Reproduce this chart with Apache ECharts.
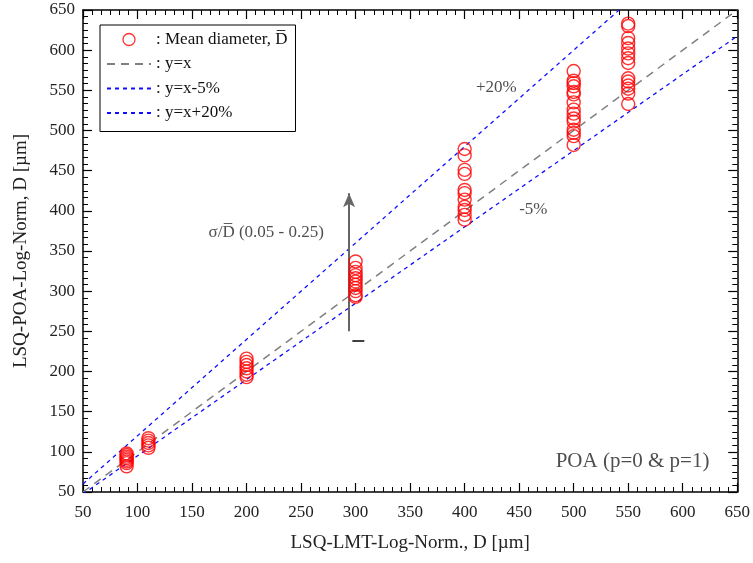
<!DOCTYPE html>
<html><head><meta charset="utf-8">
<script src="https://cdn.jsdelivr.net/npm/echarts@6/dist/echarts.min.js"></script>
<style>html,body{margin:0;padding:0;background:#fff}#c{width:753px;height:563px}</style>
</head><body><div id="c"></div>
<script>
// ---- data ----
const groupX = [90, 110, 200, 300, 400, 500, 550];
const y90  = [98, 96, 94, 92, 90, 88, 86, 82];
const y110 = [117, 114, 111, 108, 105];
const y200 = [216, 212, 208, 204, 200, 196, 193];
const y300 = [337, 329, 324, 320, 316, 312, 308, 304, 300, 295, 293];
const y400 = [477, 469, 451, 446, 426, 422, 414, 405, 401, 395, 389];
const y500 = [574, 562, 559, 555, 548, 545, 535, 526, 521, 515, 511, 501, 497, 493, 482];
const y550 = [633, 630, 615, 609, 602, 596, 590, 584, 565, 561, 556, 552, 546, 533];
const lineYX      = [[50,50],[650,650]];
const lineMinus5  = [[50,47.5],[650,617.5]];
const linePlus20  = [[50,60],[541.67,650]];
const arrowFrom = [294, 250], arrowTo = [294, 422];
const dashFrom = [297, 238], dashTo = [308, 238];

const yGroups = [y90, y110, y200, y300, y400, y500, y550];
const points = [];
groupX.forEach((x,i)=>yGroups[i].forEach(y=>points.push([x,y])));

const FONT = '"Liberation Serif", "DejaVu Serif", serif';
const txt = {fontFamily: FONT, color: '#222'};

const annotations = [
  {value:[429, 553], text:'+20%', size:17},
  {value:[463, 401], text:'-5%', size:17},
  {value:[218, 373], text:'σ/D\u0305 (0.05 - 0.25)', size:17},
  {value:[554, 88], text:'POA (p=0 & p=1)', size:21}
];

const chart = echarts.init(document.getElementById('c'));
const axisCommon = {
  min: 50, max: 650, interval: 50,
  axisLine: {show: true, onZero: false, lineStyle: {color: '#000', width: 1.5}},
  axisTick: {show: true, inside: true, length: 9, lineStyle: {color: '#000', width: 1.2}},
  minorTick: {show: true, splitNumber: 6, length: 5, lineStyle: {color: '#000', width: 1}},
  splitLine: {show: false}
};
const hideSym = {opacity: 0};
chart.setOption({
  animation: false,
  backgroundColor: '#fff',
  grid: {left: 83, right: 13, top: 10, bottom: 71},
  legend: {
    left: 100, top: 25, orient: 'vertical',
    borderColor: '#000', borderWidth: 1, padding: [6, 8, 10, 6],
    itemWidth: 44, itemHeight: 12, itemGap: 7.5,
    textStyle: {fontFamily: FONT, fontSize: 17, color: '#111'},
    data: [
      {name: ': Mean diameter, D\u0305', icon: 'circle', itemStyle: {color: 'transparent', borderColor: '#ff0000', borderWidth: 1.3}},
      {name: ': y=x', itemStyle: hideSym},
      {name: ': y=x-5%', itemStyle: hideSym},
      {name: ': y=x+20%', itemStyle: hideSym}
    ]
  },
  xAxis: [
    Object.assign({}, axisCommon, {type: 'value', position: 'bottom',
      name: 'LSQ-LMT-Log-Norm., D [µm]', nameLocation: 'middle', nameGap: 42,
      nameTextStyle: Object.assign({fontSize: 19}, txt),
      axisLabel: Object.assign({fontSize: 17, margin: 12}, txt)}),
    Object.assign({}, axisCommon, {type: 'value', position: 'top', axisLabel: {show: false}})
  ],
  yAxis: [
    Object.assign({}, axisCommon, {type: 'value', position: 'left',
      name: 'LSQ-POA-Log-Norm, D [µm]', nameLocation: 'middle', nameGap: 52,
      nameTextStyle: Object.assign({fontSize: 19}, txt),
      axisLabel: Object.assign({fontSize: 17, margin: 8}, txt)}),
    Object.assign({}, axisCommon, {type: 'value', position: 'right', axisLabel: {show: false}})
  ],
  series: [
    {name: ': y=x', type: 'line', data: lineYX, symbol: 'none', clip: true,
      lineStyle: {color: '#808080', width: 1.5, type: [8, 6]}, itemStyle: {color: '#808080', opacity: 0}, z: 2},
    {name: ': y=x-5%', type: 'line', data: lineMinus5, symbol: 'none', clip: true,
      lineStyle: {color: '#1010ff', width: 1.3, type: [4, 4]}, itemStyle: {color: '#1010ff', opacity: 0}, z: 2},
    {name: ': y=x+20%', type: 'line', data: linePlus20, symbol: 'none', clip: true,
      lineStyle: {color: '#1010ff', width: 1.3, type: [4, 4]}, itemStyle: {color: '#1010ff', opacity: 0}, z: 2,
      markLine: {
        silent: true, animation: false, label: {show: false},
        data: [
          [{coord: arrowFrom, symbol: 'none', lineStyle: {color: '#666', width: 2, type: 'solid'}},
           {coord: arrowTo, symbol: 'arrow', symbolSize: [9, 14], itemStyle: {color: '#000', opacity: 1}}],
          [{coord: dashFrom, symbol: 'none', lineStyle: {color: '#000', width: 1.5, type: 'solid'}},
           {coord: dashTo, symbol: 'none'}]
        ],
        itemStyle: {opacity: 1},
        lineStyle: {color: '#666', width: 2, type: 'solid', opacity: 1}
      }},
    {name: ': Mean diameter, D\u0305', type: 'scatter', data: points, symbol: 'circle', symbolSize: 13,
      itemStyle: {color: 'transparent', borderColor: '#ff0000', borderWidth: 1.4}, z: 5},
    {name: 'annot', type: 'scatter', symbolSize: 0, silent: true, z: 6,
      data: annotations.map(a => ({value: a.value,
        label: {show: true, position: 'inside', formatter: a.text, fontSize: a.size, fontFamily: FONT, color: '#222'}}))}
  ]
});
</script></body></html>
